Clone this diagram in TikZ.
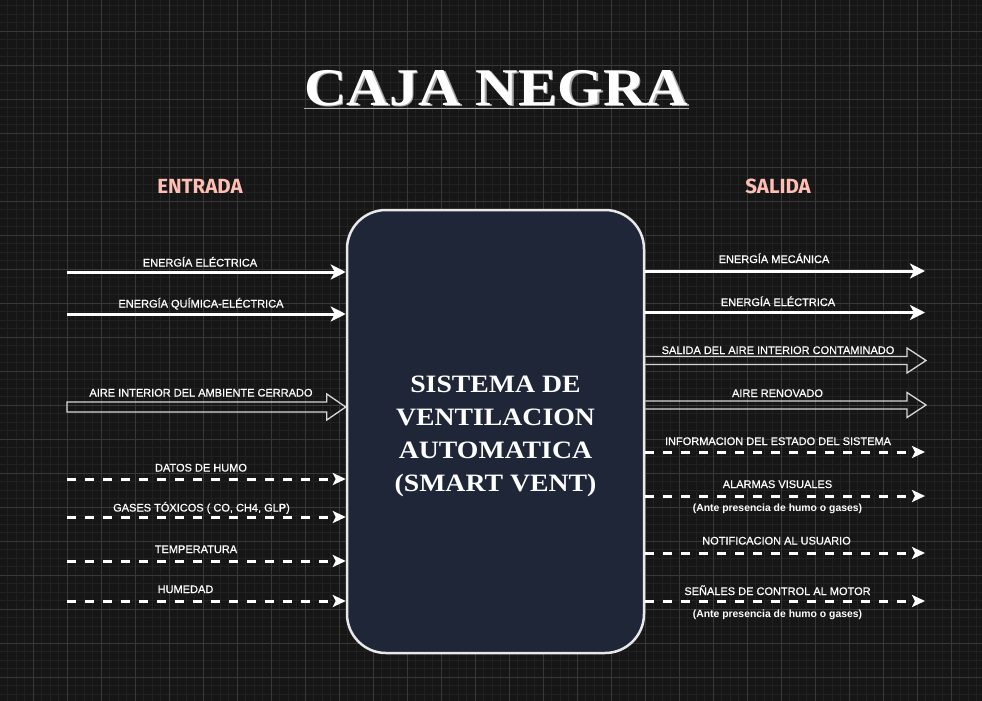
\documentclass[tikz,border=0pt]{standalone}
\usepackage{fontspec}
\setmainfont{Liberation Sans}
\newfontfamily\lblfont[FakeBold=0.6]{Liberation Sans}
\newfontfamily\serifwide[FakeStretch=1.11]{Liberation Serif}
\newfontfamily\headfont{Fira Sans}
\usetikzlibrary{arrows.meta,calc}
\definecolor{bgc}{RGB}{22,22,22}
\definecolor{gridminor}{RGB}{33,33,33}
\definecolor{gridmajor}{RGB}{56,56,56}
\definecolor{boxfill}{RGB}{30,38,56}
\definecolor{boxline}{RGB}{232,232,232}
\definecolor{pinkhead}{RGB}{255,190,180}
\definecolor{blockline}{RGB}{215,215,215}
\definecolor{ulinec}{RGB}{170,170,170}
\tikzset{
  lbl/.style={font=\lblfont\fontsize{11}{13}\selectfont, text=white, anchor=base, inner sep=0pt},
  sublbl/.style={font=\bfseries\fontsize{10.4}{12}\selectfont, text=white, anchor=base, inner sep=0pt},
  headlbl/.style={font=\headfont\bfseries\fontsize{20.5}{24}\selectfont, text=pinkhead, anchor=base, inner sep=0pt},
  solidarrow/.style={draw=white, line width=3pt, -{Stealth[length=15pt,width=15pt,inset=4pt]}},
  dasharrow/.style={draw=white, line width=3pt, dash pattern=on 9pt off 9pt, -{Stealth[length=13pt,width=12pt,inset=3pt]}},
  blockarrow/.style={draw=blockline, line width=1.3pt, line join=miter},
  sysbox/.style={draw=boxline, fill=boxfill, line width=2.5pt, rounded corners=39pt, minimum width=297pt, minimum height=443pt, inner sep=0pt}
}
\begin{document}
\begin{tikzpicture}[x=1pt,y=-1pt]
\useasboundingbox (0,0) rectangle (982,701);
% background and grid
\fill[bgc] (0,0) rectangle (982,701);
\foreach \i in {0,...,116} { \draw[gridminor, line width=0.6pt] ({-1+8.5*\i},0) -- ({-1+8.5*\i},701); }
\foreach \i in {0,...,83} { \draw[gridminor, line width=0.6pt] (0,{-3+8.5*\i}) -- (982,{-3+8.5*\i}); }
\foreach \i in {0,...,29} { \draw[gridmajor, line width=0.9pt] ({-1+34*\i},0) -- ({-1+34*\i},701); }
\foreach \i in {0,...,21} { \draw[gridmajor, line width=0.9pt] (0,{-3+34*\i}) -- (982,{-3+34*\i}); }

% title
\node[font=\serifwide\bfseries\fontsize{53}{60}\selectfont, text=ulinec, anchor=base, inner sep=0pt] (titleshadow) at (498,106.5) {CAJA NEGRA};
\node[font=\serifwide\bfseries\fontsize{53}{60}\selectfont, text=white, anchor=base, inner sep=0pt] (title) at (496.5,105) {CAJA NEGRA};
\draw[ulinec, line width=1.5pt] ($(title.base west)+(0,3.5)$) -- ($(title.base east)+(0,3.5)$);

% headings
\node[headlbl] (entrada) at (200,193) {ENTRADA};
\node[headlbl] (salida) at (778,193) {SALIDA};

% central box
\node[sysbox] (sys) at (495.5,431.5) {};
\node[font=\serifwide\bfseries\fontsize{25}{33}\selectfont, text=white, align=center, inner sep=0pt] (systext) at (495.5,436) {SISTEMA DE\\VENTILACION\\AUTOMATICA\\(SMART VENT)};

% inputs
\coordinate (in1) at (67,272);
\coordinate (in2) at (67,314);
\coordinate (in3) at (67,407);
\coordinate (in4) at (67,479);
\coordinate (in5) at (67,517);
\coordinate (in6) at (67,561);
\coordinate (in7) at (67,601);
\draw[solidarrow] (in1) -- (in1 -| sys.west);
\draw[solidarrow] (in2) -- (in2 -| sys.west);
\coordinate (in3e) at (in3 -| sys.west);
\draw[blockarrow] ($(in3)+(0,-5)$) -- ($(in3e)+(-19,-5)$) -- ($(in3e)+(-19,-13)$) -- (in3e) -- ($(in3e)+(-19,13)$) -- ($(in3e)+(-19,5)$) -- ($(in3)+(0,5)$) -- cycle;
\draw[dasharrow] (in4) -- (in4 -| sys.west);
\draw[dasharrow] (in5) -- (in5 -| sys.west);
\draw[dasharrow] (in6) -- (in6 -| sys.west);
\draw[dasharrow] (in7) -- (in7 -| sys.west);
\node[lbl] (lin1) at (200,266.5) {ENERGÍA ELÉCTRICA};
\node[lbl] (lin2) at (201,307.5) {ENERGÍA QUÍMICA-ELÉCTRICA};
\node[lbl] (lin3) at (201,396.5) {AIRE INTERIOR DEL AMBIENTE CERRADO};
\node[lbl] (lin4) at (201,471.5) {DATOS DE HUMO};
\node[lbl] (lin5) at (201.5,511.5) {GASES TÓXICOS ( CO, CH4, GLP)};
\node[lbl] (lin6) at (196,553) {TEMPERATURA};
\node[lbl] (lin7) at (185.5,593) {HUMEDAD};

% outputs
\coordinate (out1) at (925,271);
\coordinate (out2) at (925,312.5);
\coordinate (out3) at (926,360.5);
\coordinate (out4) at (926,405);
\coordinate (out5) at (925,452);
\coordinate (out6) at (925,496);
\coordinate (out7) at (925,553);
\coordinate (out8) at (925,601);
\draw[solidarrow] (out1 -| sys.east) -- (out1);
\draw[solidarrow] (out2 -| sys.east) -- (out2);
\coordinate (out3s) at (out3 -| sys.east);
\draw[blockarrow] ($(out3s)+(0,-4)$) -- ($(out3)+(-19,-4)$) -- ($(out3)+(-19,-12.5)$) -- (out3) -- ($(out3)+(-19,12.5)$) -- ($(out3)+(-19,4)$) -- ($(out3s)+(0,4)$);
\coordinate (out4s) at (out4 -| sys.east);
\draw[blockarrow] ($(out4s)+(0,-4)$) -- ($(out4)+(-19,-4)$) -- ($(out4)+(-19,-12.5)$) -- (out4) -- ($(out4)+(-19,12.5)$) -- ($(out4)+(-19,4)$) -- ($(out4s)+(0,4)$);
\draw[dasharrow] (out5 -| sys.east) -- (out5);
\draw[dasharrow] (out6 -| sys.east) -- (out6);
\draw[dasharrow] (out7 -| sys.east) -- (out7);
\draw[dasharrow] (out8 -| sys.east) -- (out8);
\node[lbl] (lout1) at (774,263) {ENERGÍA MECÁNICA};
\node[lbl] (lout2) at (778,306) {ENERGÍA ELÉCTRICA};
\node[lbl] (lout3) at (778,354) {SALIDA DEL AIRE INTERIOR CONTAMINADO};
\node[lbl] (lout4) at (777.5,397) {AIRE RENOVADO};
\node[lbl] (lout5) at (778,445) {INFORMACION DEL ESTADO DEL SISTEMA};
\node[lbl] (lout6) at (777.5,488) {ALARMAS VISUALES};
\node[sublbl] (sout6) at (777.5,511) {(Ante presencia de humo o gases)};
\node[lbl] (lout7) at (776.5,544.5) {NOTIFICACION AL USUARIO};
\node[lbl] (lout8) at (777.5,595) {SEÑALES DE CONTROL AL MOTOR};
\node[sublbl] (sout8) at (777.5,617) {(Ante presencia de humo o gases)};
\end{tikzpicture}
\end{document}
